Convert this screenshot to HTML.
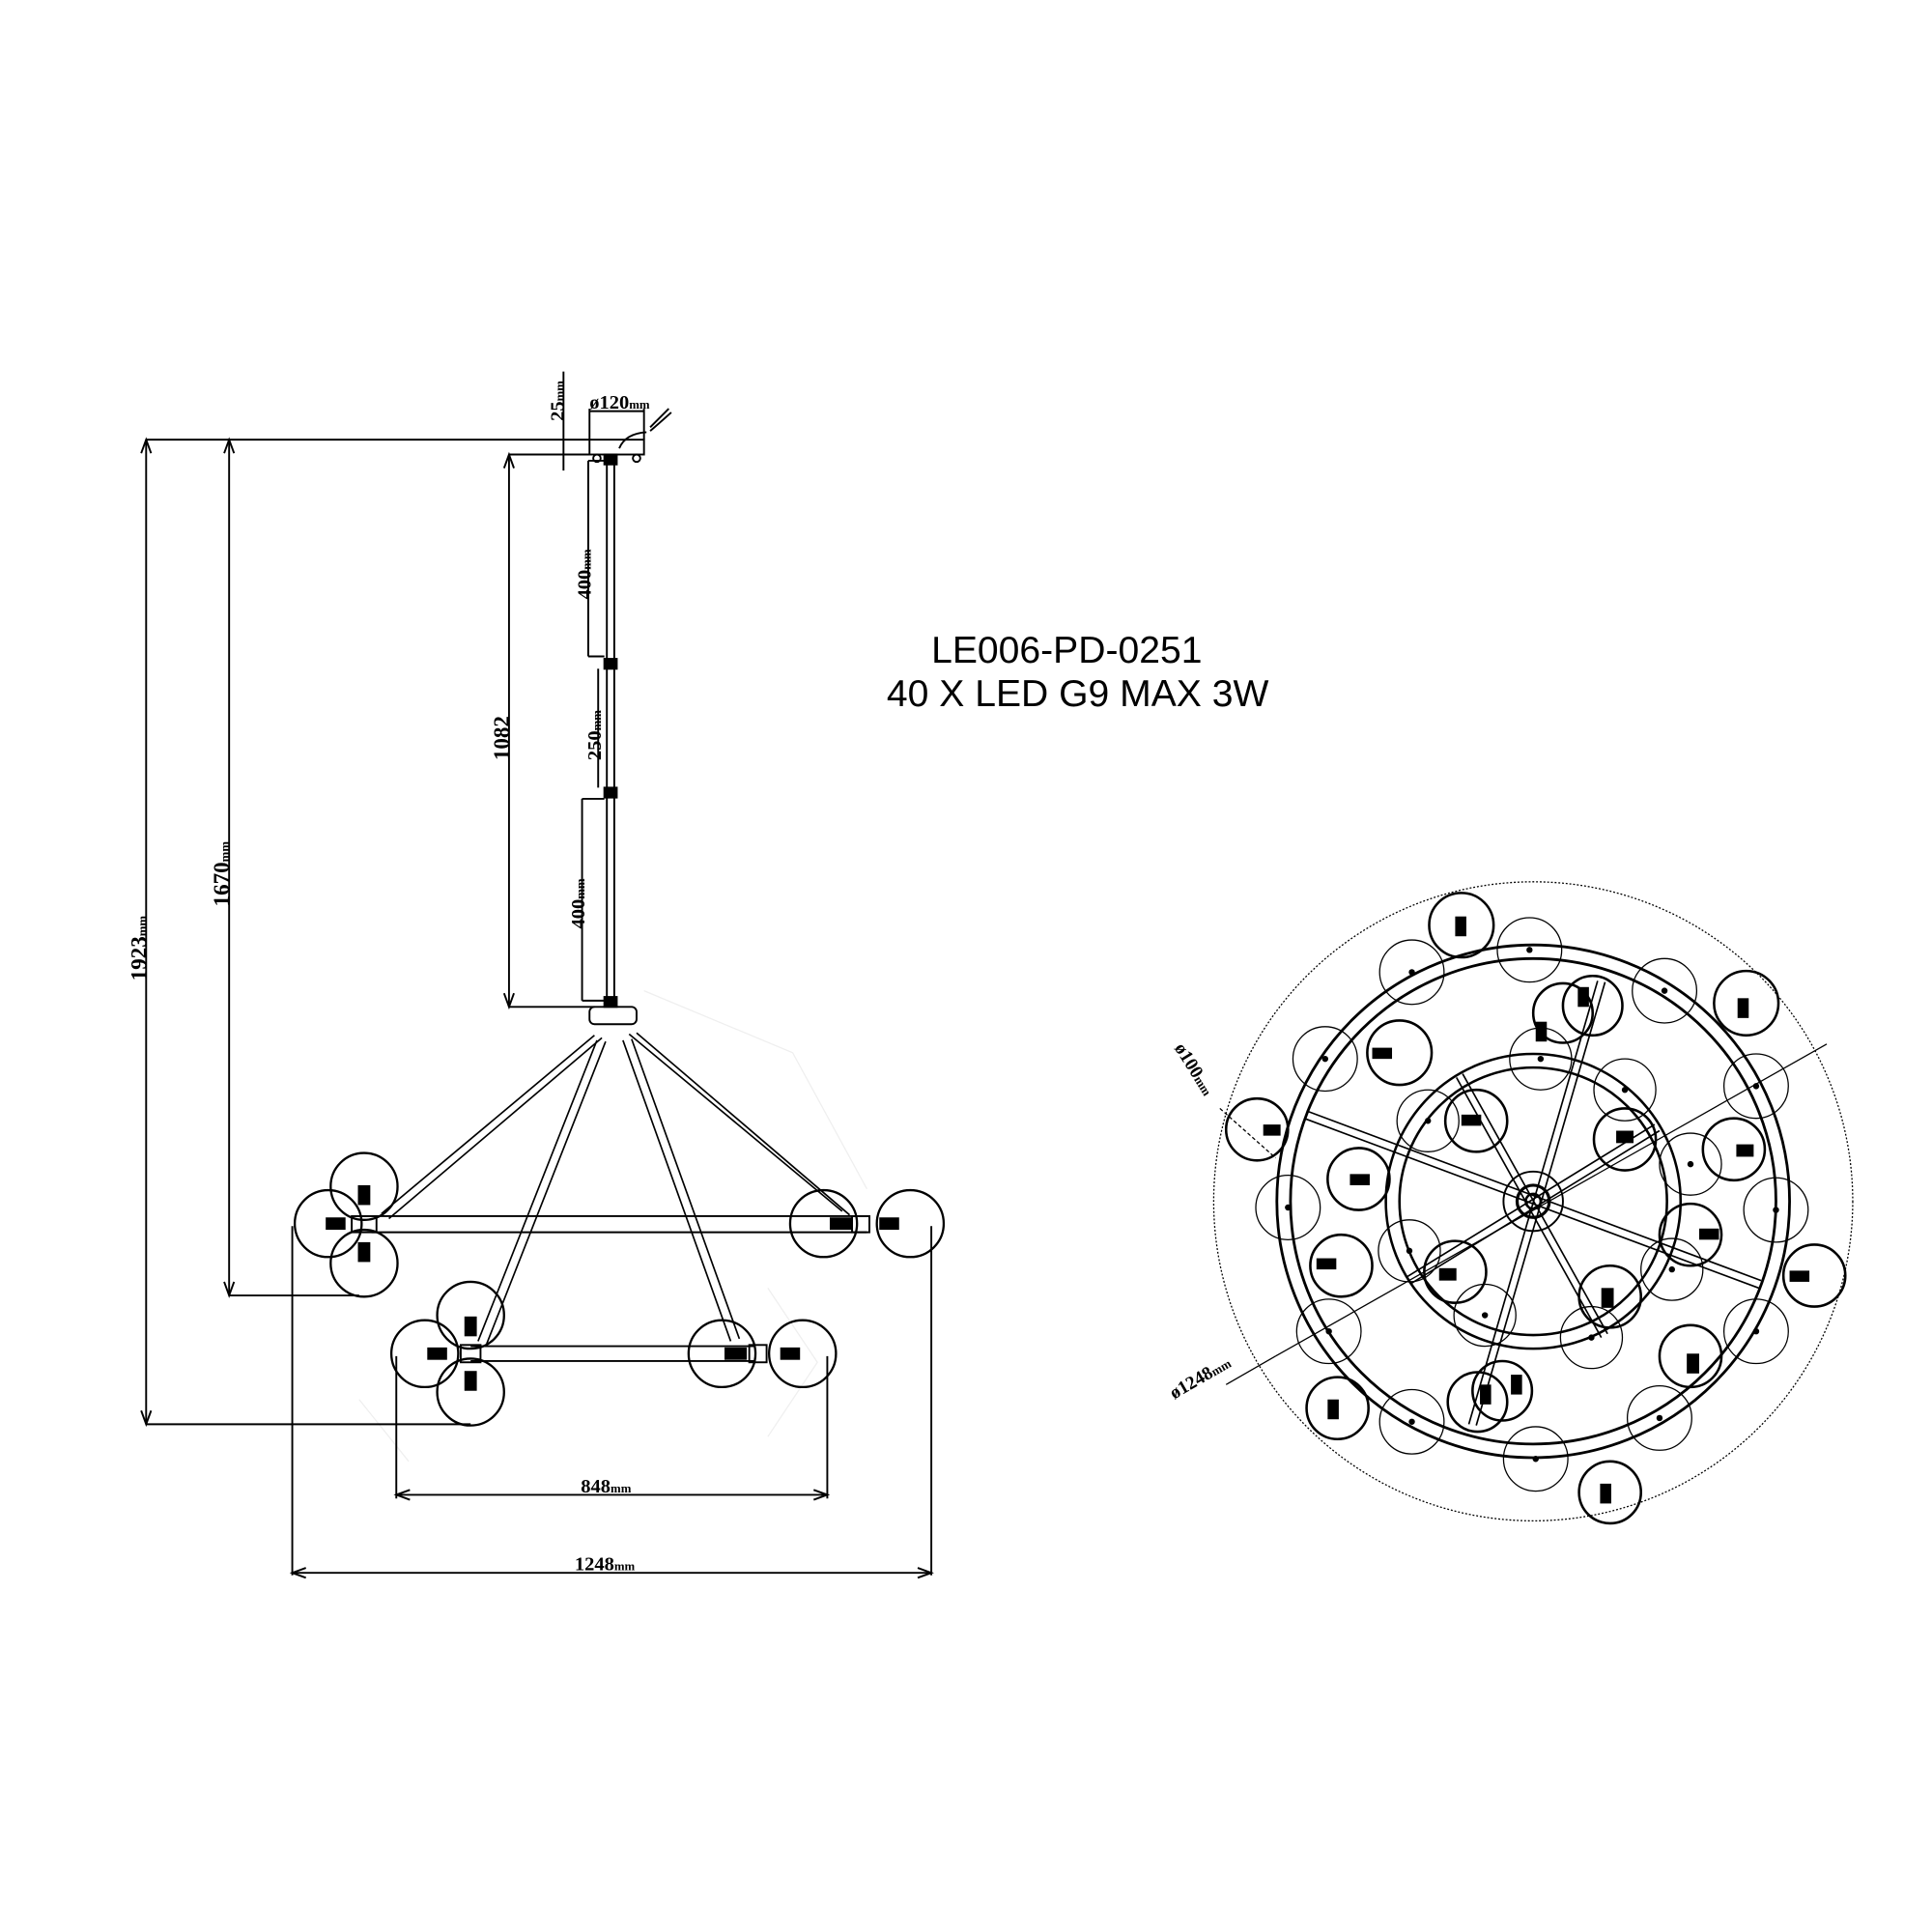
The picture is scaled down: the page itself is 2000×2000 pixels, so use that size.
<!DOCTYPE html>
<html><head><meta charset="utf-8"><style>
html,body{margin:0;padding:0;background:#fff;}
svg{display:block;}
text{font-family:"Liberation Serif",serif;font-weight:bold;fill:#000;}
.s{font-family:"Liberation Sans",sans-serif;font-weight:normal;}
</style></head><body>
<svg width="2000" height="2000" viewBox="0 0 2000 2000" xmlns="http://www.w3.org/2000/svg">
<g transform="scale(1.28205)" fill="none" stroke="#000" stroke-width="1.5">
<!-- faint sketch -->
<g stroke="#efefef" stroke-width="1">
<path d="M520 800 L640 850 L700 960 M620 1040 L660 1100 L620 1160 M290 1130 L330 1180"/>
</g>
<!-- main dims left -->
<line x1="118" y1="355" x2="476" y2="355"/>
<line x1="118" y1="355" x2="118" y2="1150"/>
<line x1="118" y1="1150" x2="380" y2="1150"/>
<line x1="185" y1="355" x2="185" y2="1046"/>
<line x1="185" y1="1046" x2="290" y2="1046"/>
<line x1="411" y1="367" x2="476" y2="367"/>
<line x1="411" y1="367" x2="411" y2="813"/>
<line x1="411" y1="813" x2="480" y2="813"/>
<path d="M114 366 L118 355 L122 366 M114 1139 L118 1150 L122 1139 M181 366 L185 355 L189 366 M181 1035 L185 1046 L189 1035 M407 378 L411 367 L415 378 M407 802 L411 813 L415 802" />
<text x="0" y="0" font-size="18" transform="translate(118 792) rotate(-90)" stroke="none">1923<tspan font-size="10">mm</tspan></text>
<text x="0" y="0" font-size="18" transform="translate(185 732) rotate(-90)" stroke="none">1670<tspan font-size="10">mm</tspan></text>
<text x="0" y="0" font-size="18" transform="translate(411 614) rotate(-90)" stroke="none">1082</text>
<!-- canopy -->
<rect x="476" y="355" width="44" height="12"/>
<line x1="476" y1="355" x2="476" y2="330"/><line x1="520" y1="355" x2="520" y2="330"/>
<line x1="476" y1="332" x2="520" y2="332"/>
<text x="476" y="330" font-size="16" stroke="none">ø120<tspan font-size="10">mm</tspan></text>
<line x1="455" y1="300" x2="455" y2="380"/>
<text x="0" y="0" font-size="16" transform="translate(455 340) rotate(-90)" stroke="none">25<tspan font-size="10">mm</tspan></text>
<path d="M525 345 Q530 340 540 330 M525 348 Q532 342 542 333 M500 362 Q505 350 522 349"/>
<circle cx="482" cy="370" r="3"/><circle cx="514" cy="370" r="3"/>
<!-- stem -->
<line x1="490" y1="367" x2="490" y2="813"/><line x1="496" y1="367" x2="496" y2="813"/>
<rect x="488" y="367" width="10" height="8" fill="#000"/>
<rect x="488" y="532" width="10" height="8" fill="#000"/>
<rect x="488" y="636" width="10" height="8" fill="#000"/>
<rect x="488" y="805" width="10" height="8" fill="#000"/>
<line x1="475" y1="372" x2="475" y2="530"/><line x1="475" y1="372" x2="488" y2="372"/><line x1="475" y1="530" x2="488" y2="530"/>
<text x="0" y="0" font-size="16" transform="translate(477 484) rotate(-90)" stroke="none">400<tspan font-size="10">mm</tspan></text>
<line x1="483" y1="540" x2="483" y2="636"/>
<text x="0" y="0" font-size="16" transform="translate(485 614) rotate(-90)" stroke="none">250<tspan font-size="10">mm</tspan></text>
<line x1="470" y1="645" x2="470" y2="808"/><line x1="470" y1="645" x2="488" y2="645"/><line x1="470" y1="808" x2="488" y2="808"/>
<text x="0" y="0" font-size="16" transform="translate(472 750) rotate(-90)" stroke="none">400<tspan font-size="10">mm</tspan></text>
<!-- hub -->
<rect x="476" y="813" width="38" height="14" rx="4"/>
<!-- arms -->
<g stroke-width="1.3">
<path d="M480 836 L308 980 M486 838 L314 984"/>
<path d="M482 840 L386 1083 M489 841 L393 1085"/>
<path d="M503 840 L590 1083 M510 839 L597 1081"/>
<path d="M508 835 L680 978 M514 834 L686 981"/>
</g>
<!-- back bar -->
<line x1="300" y1="982" x2="700" y2="982"/><line x1="300" y1="995" x2="700" y2="995"/>
<g stroke-width="1.8">
<circle cx="265" cy="988" r="27"/><circle cx="294" cy="958" r="27"/><circle cx="294" cy="1020" r="27"/>
<circle cx="665" cy="988" r="27"/><circle cx="735" cy="988" r="27"/>
</g>
<g fill="#000" stroke="none">
<rect x="263" y="983" width="16" height="10"/><rect x="289" y="957" width="10" height="16"/><rect x="289" y="1003" width="10" height="16"/>
<rect x="670" y="983" width="18" height="10"/><rect x="710" y="983" width="16" height="10"/>
</g>
<rect x="284" y="982" width="20" height="13"/>
<rect x="688" y="982" width="14" height="13"/>
<!-- front bar -->
<line x1="380" y1="1087" x2="610" y2="1087"/><line x1="380" y1="1099" x2="610" y2="1099"/>
<g stroke-width="1.8">
<circle cx="343" cy="1093" r="27"/><circle cx="380" cy="1062" r="27"/><circle cx="380" cy="1124" r="27"/>
<circle cx="583" cy="1093" r="27"/><circle cx="648" cy="1093" r="27"/>
</g>
<g fill="#000" stroke="none">
<rect x="345" y="1088" width="16" height="10"/><rect x="375" y="1063" width="10" height="16"/><rect x="375" y="1107" width="10" height="16"/>
<rect x="585" y="1088" width="18" height="10"/><rect x="630" y="1088" width="16" height="10"/>
</g>
<rect x="372" y="1086" width="16" height="14"/>
<rect x="605" y="1086" width="14" height="14"/>
<!-- width dims -->
<line x1="236" y1="990" x2="236" y2="1272"/><line x1="752" y1="990" x2="752" y2="1272"/>
<line x1="236" y1="1270" x2="752" y2="1270"/>
<path d="M247 1266 L236 1270 L247 1274 M741 1266 L752 1270 L741 1274"/>
<text x="464" y="1268" font-size="16" stroke="none">1248<tspan font-size="10">mm</tspan></text>
<line x1="320" y1="1095" x2="320" y2="1210"/><line x1="668" y1="1095" x2="668" y2="1210"/>
<line x1="320" y1="1207" x2="668" y2="1207"/>
<path d="M331 1203 L320 1207 L331 1211 M657 1203 L668 1207 L657 1211"/>
<text x="469" y="1205" font-size="16" stroke="none">848<tspan font-size="10">mm</tspan></text>
<!-- title -->
<text class="s" x="752" y="535" font-size="30.5" stroke="none">LE006-PD-0251</text>
<text class="s" x="716" y="570" font-size="30.5" stroke="none">40 X LED G9 MAX 3W</text>
<!-- right top view -->
<circle cx="1238" cy="970" r="258" stroke-dasharray="1.5 1.5" stroke-width="1"/>
<circle cx="1238" cy="970" r="207" stroke-width="2.2"/>
<circle cx="1238" cy="970" r="196" stroke-width="2.2"/>
<circle cx="1238" cy="970" r="119" stroke-width="2"/>
<circle cx="1238" cy="970" r="108" stroke-width="2"/>
<circle cx="1238" cy="970" r="24"/>
<circle cx="1238" cy="970" r="13" stroke-width="2.5"/>
<circle cx="1238" cy="970" r="6" stroke-width="2"/>
<!-- spokes -->
<g stroke-width="1.3">
<path d="M1053 903 L1420 1040 M1055 897 L1422 1034"/>
<path d="M1290 792 L1186 1150 M1296 793 L1192 1151"/>
<path d="M1176 870 L1293 1080 M1181 867 L1298 1077"/>
<path d="M1136 1031 L1336 908 M1140 1036 L1340 913"/>
</g>
<line x1="1475" y1="843" x2="1030" y2="1095" stroke-width="1"/>
<line x1="1030" y1="1095" x2="990" y2="1118" stroke-width="1"/>
<text x="0" y="0" font-size="15" transform="translate(948 1130) rotate(-30)" stroke="none">ø1248<tspan font-size="10">mm</tspan></text>
<text x="0" y="0" font-size="15" transform="translate(948 846) rotate(58)" stroke="none">ø100<tspan font-size="10">mm</tspan></text>
<line x1="985" y1="895" x2="1030" y2="935" stroke-width="1" stroke-dasharray="3 2"/>
<!-- thin globes -->
<g stroke-width="1">
<circle cx="1140" cy="785" r="26"/><circle cx="1235" cy="767" r="26"/><circle cx="1344" cy="800" r="26"/>
<circle cx="1070" cy="855" r="26"/><circle cx="1418" cy="877" r="26"/><circle cx="1040" cy="975" r="26"/>
<circle cx="1434" cy="977" r="26"/><circle cx="1073" cy="1075" r="26"/><circle cx="1418" cy="1075" r="26"/>
<circle cx="1140" cy="1148" r="26"/><circle cx="1340" cy="1145" r="26"/><circle cx="1240" cy="1178" r="26"/>
<circle cx="1244" cy="855" r="25"/><circle cx="1312" cy="880" r="25"/><circle cx="1153" cy="905" r="25"/>
<circle cx="1365" cy="940" r="25"/><circle cx="1138" cy="1010" r="25"/><circle cx="1350" cy="1025" r="25"/>
<circle cx="1199" cy="1062" r="25"/><circle cx="1285" cy="1080" r="25"/>
</g>
<g fill="#000" stroke="none">
<circle cx="1140" cy="785" r="2.5"/><circle cx="1235" cy="767" r="2.5"/><circle cx="1344" cy="800" r="2.5"/>
<circle cx="1070" cy="855" r="2.5"/><circle cx="1418" cy="877" r="2.5"/><circle cx="1040" cy="975" r="2.5"/>
<circle cx="1434" cy="977" r="2.5"/><circle cx="1073" cy="1075" r="2.5"/><circle cx="1418" cy="1075" r="2.5"/>
<circle cx="1140" cy="1148" r="2.5"/><circle cx="1340" cy="1145" r="2.5"/><circle cx="1240" cy="1178" r="2.5"/>
<circle cx="1244" cy="855" r="2.5"/><circle cx="1312" cy="880" r="2.5"/><circle cx="1153" cy="905" r="2.5"/>
<circle cx="1365" cy="940" r="2.5"/><circle cx="1138" cy="1010" r="2.5"/><circle cx="1350" cy="1025" r="2.5"/>
<circle cx="1199" cy="1062" r="2.5"/><circle cx="1285" cy="1080" r="2.5"/>
</g>
<!-- bold globes -->
<g stroke-width="2">
<circle cx="1180" cy="747" r="26"/><circle cx="1410" cy="810" r="26"/><circle cx="1130" cy="850" r="26"/>
<circle cx="1262" cy="818" r="24"/><circle cx="1286" cy="812" r="24"/><circle cx="1192" cy="905" r="25"/>
<circle cx="1312" cy="920" r="25"/><circle cx="1400" cy="928" r="25"/><circle cx="1097" cy="952" r="25"/>
<circle cx="1015" cy="912" r="25"/><circle cx="1365" cy="997" r="25"/><circle cx="1083" cy="1022" r="25"/>
<circle cx="1175" cy="1027" r="25"/><circle cx="1465" cy="1030" r="25"/><circle cx="1300" cy="1047" r="25"/>
<circle cx="1365" cy="1095" r="25"/><circle cx="1080" cy="1137" r="25"/><circle cx="1193" cy="1132" r="24"/>
<circle cx="1213" cy="1123" r="24"/><circle cx="1300" cy="1205" r="25"/>
</g>
<g fill="#000" stroke="none">
<rect x="1175" y="740" width="9" height="16"/><rect x="1403" y="806" width="9" height="16"/><rect x="1108" y="846" width="16" height="9"/>
<rect x="1274" y="797" width="9" height="16"/><rect x="1240" y="825" width="9" height="16"/><rect x="1180" y="900" width="16" height="9"/>
<rect x="1305" y="913" width="14" height="10"/><rect x="1402" y="924" width="14" height="10"/><rect x="1090" y="948" width="16" height="9"/>
<rect x="1020" y="908" width="14" height="9"/><rect x="1372" y="992" width="16" height="9"/><rect x="1063" y="1016" width="16" height="9"/>
<rect x="1162" y="1024" width="14" height="10"/><rect x="1445" y="1026" width="16" height="9"/><rect x="1293" y="1040" width="10" height="16"/>
<rect x="1362" y="1093" width="10" height="16"/><rect x="1072" y="1130" width="9" height="16"/><rect x="1195" y="1118" width="9" height="16"/>
<rect x="1220" y="1110" width="9" height="16"/><rect x="1292" y="1198" width="9" height="16"/>
</g>
</g>
</svg>
</body></html>
